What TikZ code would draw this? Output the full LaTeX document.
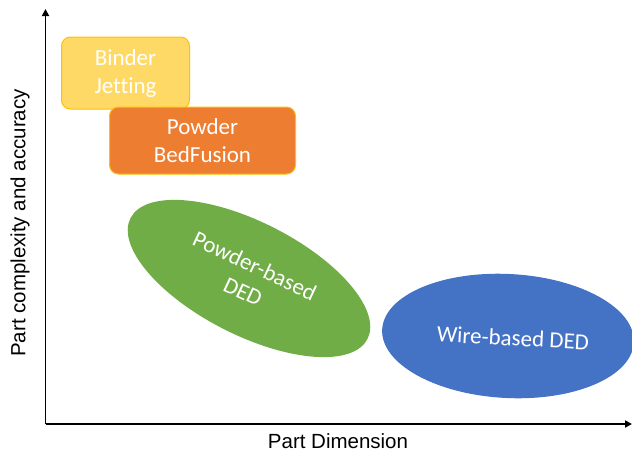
\documentclass[tikz,border=0pt]{standalone}
\usepackage{fontspec}
\setmainfont[Ligatures={NoCommon}]{Carlito}
\newfontfamily\arialfont{Liberation Sans}
\usetikzlibrary{shapes.geometric,arrows.meta}
\definecolor{bjfill}{HTML}{FFD966}
\definecolor{bjdraw}{HTML}{FFC000}
\definecolor{pbfill}{HTML}{ED7D31}
\definecolor{grn}{HTML}{70AD47}
\definecolor{blu}{HTML}{4472C4}
\tikzset{
  procbox/.style={rounded corners=9pt, line width=1pt, draw=bjdraw, text=white,
    font=\fontsize{23}{28}\selectfont, align=center, inner sep=0pt},
  proclabel/.style={text=white, font=\fontsize{23}{28}\selectfont, align=center},
  axis/.style={line width=1.8pt, -{Triangle[length=7pt,width=7pt]}},
  axlabel/.style={font=\arialfont\fontsize{20.5}{24}\selectfont}
}
\begin{document}
\begin{tikzpicture}[x=1pt,y=-1pt]
\useasboundingbox (0,0) rectangle (632,453);
\coordinate (origin) at (45.5,424);
\coordinate (ytop) at (45.5,9);
\coordinate (xend) at (632,424);
\draw[axis] (origin) -- (ytop);
\draw[axis] (origin) -- (xend);
\node[axlabel, rotate=90] (ylab) at (20,223) {Part complexity and accuracy};
\node[axlabel] (xlab) at (338,441) {Part Dimension};
% Binder Jetting
\node[procbox, fill=bjfill, minimum width=128pt, minimum height=72pt] (bj) at (125.5,73) {Binder\\Jetting};
% Powder Bed Fusion
\node[procbox, fill=pbfill, minimum width=186pt, minimum height=67pt] (pbf) at (202.5,140.5) {Powder\\BedFusion};
% Powder-based DED
\node[ellipse, fill=grn, minimum width=266pt, minimum height=113pt, inner sep=0pt, rotate=-27] (pded) at (249,278.5) {};
\node[proclabel, rotate=-25] (pdedt) at (pded.center) {Powder-based\\DED};
% Wire-based DED
\node[ellipse, fill=blu, minimum width=252pt, minimum height=124pt, inner sep=0pt, rotate=-3] (wded) at (508,336) {};
\node[proclabel, rotate=-3] (wdedt) at (513,338) {Wire-based DED};
\end{tikzpicture}
\end{document}
